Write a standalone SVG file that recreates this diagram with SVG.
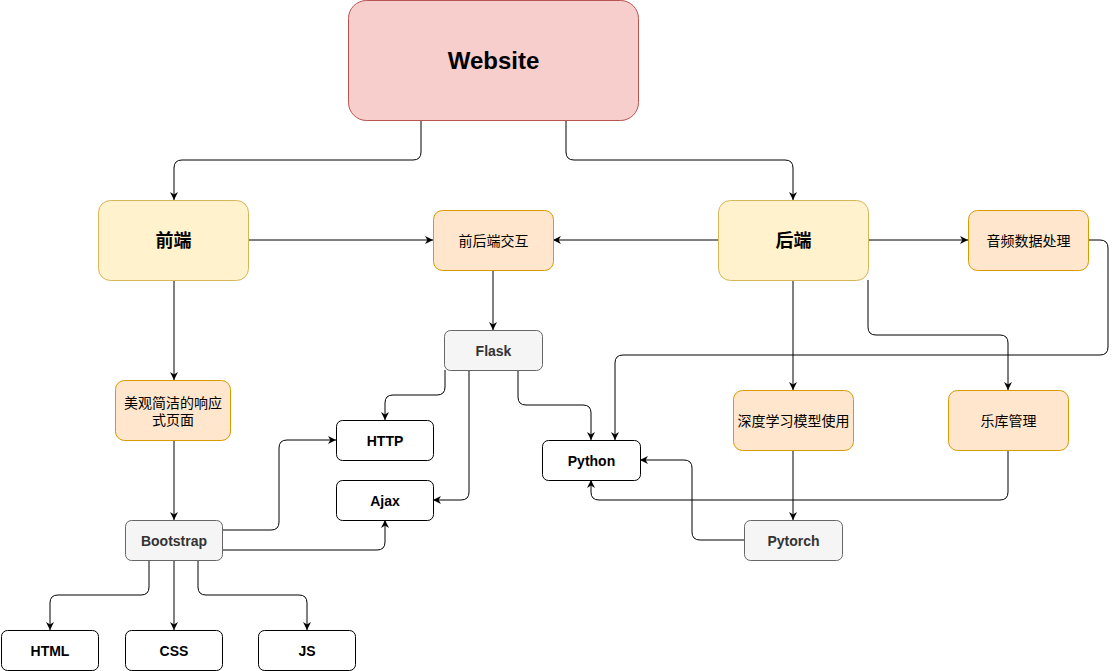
<svg xmlns="http://www.w3.org/2000/svg" width="1117" height="671" viewBox="0 0 1117 671">
<style>
.e{fill:none;stroke:#000;stroke-width:1;marker-end:url(#arr)}
.yel{fill:#fff2cc;stroke:#d6b656}
.org{fill:#ffe6cc;stroke:#d79b00}
.gry{fill:#f5f5f5;stroke:#666666}
.wht{fill:#ffffff;stroke:#000000}
.red{fill:#f8cecc;stroke:#b85450}
text{font-family:"Liberation Sans","Noto Sans CJK SC",sans-serif;text-anchor:middle}
.cn{font-size:14px;fill:#000}
.cnb{font-size:18px;font-weight:bold;fill:#000}
.en{font-size:14px;font-weight:bold;fill:#000}
.eng{font-size:14px;font-weight:bold;fill:#333333}
</style>
<defs>
<marker id="arr" viewBox="0 0 10 10" refX="10" refY="5" markerWidth="8" markerHeight="8" markerUnits="userSpaceOnUse" orient="auto">
<path d="M0,0 L10,5 L0,10 L3,5 z" fill="#000"/>
</marker>
</defs>
<rect width="1117" height="671" fill="#ffffff"/>
<g id="connectors">
<path class="e" d="M421,120 V152 Q421,160 413,160 H182 Q174,160 174,168 V200"/>
<path class="e" d="M566,120 V152 Q566,160 574,160 H785 Q793,160 793,168 V200"/>
<path class="e" d="M248,240 H433"/>
<path class="e" d="M718,240 H553"/>
<path class="e" d="M868,240 H968"/>
<path class="e" d="M174,280 V380"/>
<path class="e" d="M174,440 V520"/>
<path class="e" d="M493,270 V330"/>
<path class="e" d="M445,370 V387 Q445,395 437,395 H393 Q385,395 385,403 V420"/>
<path class="e" d="M469,370 V492 Q469,500 461,500 H433"/>
<path class="e" d="M518,370 V397 Q518,405 526,405 H583 Q591,405 591,413 V440"/>
<path class="e" d="M1088,240 H1100 Q1108,240 1108,248 V347 Q1108,355 1100,355 H623 Q615,355 615,363 V440"/>
<path class="e" d="M868,280 V327 Q868,335 876,335 H1000 Q1008,335 1008,343 V390"/>
<path class="e" d="M793,280 V390"/>
<path class="e" d="M793,450 V520"/>
<path class="e" d="M1008,450 V492 Q1008,500 1000,500 H599 Q591,500 591,492 V480"/>
<path class="e" d="M744,540 H700 Q692,540 692,532 V468 Q692,460 684,460 H640"/>
<path class="e" d="M222,530 H271 Q279,530 279,522 V448 Q279,440 287,440 H336"/>
<path class="e" d="M222,550 H377 Q385,550 385,542 V520"/>
<path class="e" d="M149,560 V587 Q149,595 141,595 H58 Q50,595 50,603 V630"/>
<path class="e" d="M174,560 V630"/>
<path class="e" d="M198,560 V587 Q198,595 206,595 H299 Q307,595 307,603 V630"/>
</g>
<g id="website"><rect class="red" x="348.5" y="0.5" width="290" height="120" rx="18"/><text x="493.5" y="69" style="font-size:24px;font-weight:bold">Website</text></g>
<g id="frontend"><rect class="yel" x="98.5" y="200.5" width="150" height="80" rx="12"/><text class="cnb" x="173.5" y="247">前端</text></g>
<g id="backend"><rect class="yel" x="718.5" y="200.5" width="150" height="80" rx="12"/><text class="cnb" x="793.5" y="247">后端</text></g>
<g id="interact"><rect class="org" x="433.5" y="210.5" width="120" height="60" rx="9"/><text class="cn" x="493.5" y="245.5">前后端交互</text></g>
<g id="audio"><rect class="org" x="968.5" y="210.5" width="120" height="60" rx="9"/><text class="cn" x="1028.5" y="245.5">音频数据处理</text></g>
<g id="flask"><rect class="gry" x="444.5" y="330.5" width="98" height="40" rx="6"/><text class="eng" x="493.5" y="355.5">Flask</text></g>
<g id="ui"><rect class="org" x="115.5" y="380.5" width="115" height="60" rx="9"/><text class="cn" x="173" y="408">美观简洁的响应</text><text class="cn" x="173" y="424.5">式页面</text></g>
<g id="dl"><rect class="org" x="733.5" y="390.5" width="120" height="60" rx="9"/><text class="cn" x="793.5" y="425.5">深度学习模型使用</text></g>
<g id="lib"><rect class="org" x="948.5" y="390.5" width="120" height="60" rx="9"/><text class="cn" x="1008.5" y="425.5">乐库管理</text></g>
<g id="http"><rect class="wht" x="336.5" y="420.5" width="97" height="40" rx="6"/><text class="en" x="385" y="445.5">HTTP</text></g>
<g id="ajax"><rect class="wht" x="336.5" y="480.5" width="97" height="40" rx="6"/><text class="en" x="385" y="505.5">Ajax</text></g>
<g id="python"><rect class="wht" x="542.5" y="440.5" width="98" height="40" rx="6"/><text class="en" x="591.5" y="465.5">Python</text></g>
<g id="bootstrap"><rect class="gry" x="125.5" y="520.5" width="97" height="40" rx="6"/><text class="eng" x="174" y="545.5">Bootstrap</text></g>
<g id="pytorch"><rect class="gry" x="744.5" y="520.5" width="98" height="40" rx="6"/><text class="eng" x="793.5" y="545.5">Pytorch</text></g>
<g id="html"><rect class="wht" x="1.5" y="630.5" width="97" height="40" rx="6"/><text class="en" x="50" y="655.5">HTML</text></g>
<g id="css"><rect class="wht" x="125.5" y="630.5" width="97" height="40" rx="6"/><text class="en" x="174" y="655.5">CSS</text></g>
<g id="js"><rect class="wht" x="258.5" y="630.5" width="97" height="40" rx="6"/><text class="en" x="307" y="655.5">JS</text></g>
</svg>
